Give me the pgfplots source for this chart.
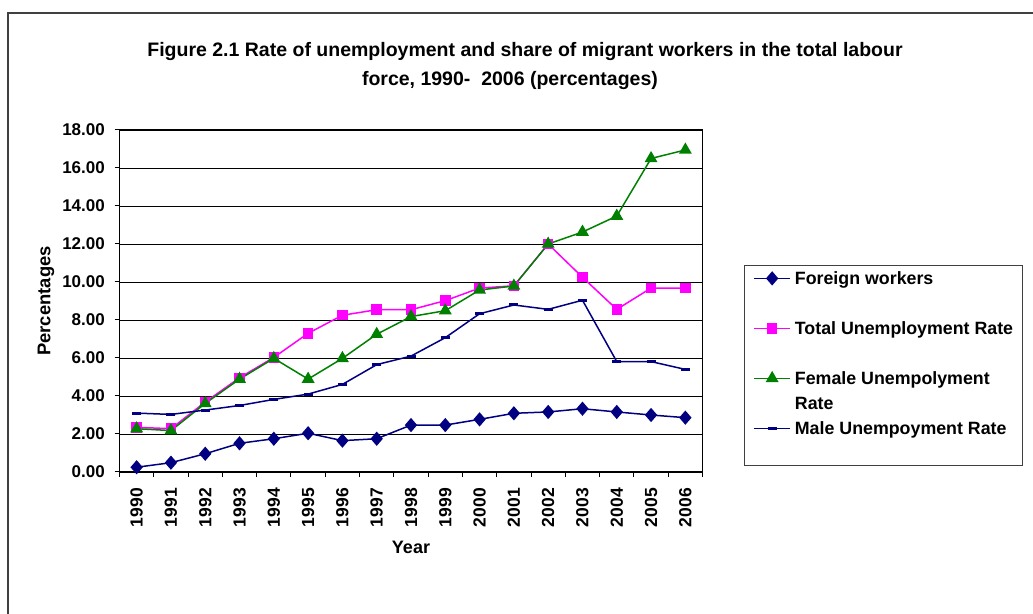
\documentclass[border=0pt]{standalone}
\usepackage{fontspec}
\setmainfont{Liberation Sans}
\usepackage{pgfplots}
\pgfplotsset{compat=1.18}
\definecolor{navy}{RGB}{0,0,128}
\definecolor{mag}{RGB}{255,0,255}
\definecolor{grn}{RGB}{0,128,0}
\definecolor{framec}{RGB}{64,64,64}
\begin{document}
\begin{tikzpicture}
\useasboundingbox (0pt,0pt) rectangle (1033pt,613pt);
\draw[framec, line width=2pt] (8pt,-2pt) -- (8pt,600pt) -- (1036pt,600pt);
\node[font=\bfseries\fontsize{19.5}{23}\selectfont, anchor=base] at (525pt,556.5pt) {Figure 2.1 Rate of unemployment and share of migrant workers in the total labour};
\node[font=\bfseries\fontsize{19.5}{23}\selectfont, anchor=base] at (510pt,527pt) {force, 1990-\ \ 2006 (percentages)};
\begin{axis}[
  at={(119.5pt,141pt)}, anchor=south west,
  scale only axis, width=583pt, height=342pt,
  xmin=-0.5, xmax=16.5, ymin=0, ymax=18,
  xtick={-0.5,0.5,...,16.5},
  x tick label as interval,
  xticklabels={1990,1991,1992,1993,1994,1995,1996,1997,1998,1999,2000,2001,2002,2003,2004,2005,2006},
  ytick={0,2,...,18},
  tick pos=left,
  tick align=outside, major tick length=5pt,
  tick style={black, line width=1pt},
  ymajorgrids, grid style={black, line width=0.8pt},
  axis line style={black, line width=1.3pt},
  yticklabel style={font=\bfseries\fontsize{17}{20}\selectfont, inner sep=0pt, xshift=-9.5pt},
  xticklabel style={font=\bfseries\fontsize{17.5}{20}\selectfont, yshift=-11pt, rotate=90, anchor=east, inner sep=0pt},
  yticklabel={\pgfmathprintnumber[fixed, fixed zerofill, precision=2, assume math mode=true]{\tick}},
  xlabel={Year}, ylabel={Percentages},
  xlabel style={font=\bfseries\fontsize{18}{20}\selectfont, at={(axis description cs:0.5,-0.2193)}, anchor=center},
  ylabel style={font=\bfseries\fontsize{18.4}{20}\selectfont, at={(axis description cs:-0.1261,0.5)}, anchor=center},
  legend image code/.code={\draw[mark repeat=2,mark phase=2,#1,yshift=6pt] plot coordinates {(0pt,0pt) (18pt,0pt) (36pt,0pt)};},
  legend style={at={(rel axis cs:1.0712,0.6053)}, anchor=north west, draw=framec, line width=0.8pt,
    inner xsep=9pt, inner ysep=0pt, row sep=0pt, /tikz/column sep=4pt,
    font=\bfseries\fontsize{17.8}{25}\selectfont,
    nodes={inner sep=0pt, text height=19pt, text depth=31pt, anchor=base west}},
  legend cell align=left,
]
\addplot[navy, line width=1.5pt, mark=diamond*, mark size=6pt, mark options={solid, xscale=1.15}] coordinates {
(0,0.25) (1,0.49) (2,0.96) (3,1.51) (4,1.75) (5,2.04) (6,1.65) (7,1.75) (8,2.47) (9,2.47) (10,2.77) (11,3.09) (12,3.16) (13,3.33) (14,3.16) (15,3.00) (16,2.86)};
\addlegendentry{Foreign workers}
\addplot[mag, line width=1.5pt, mark=square*, mark size=4.5pt, mark options={solid}] coordinates {
(0,2.35) (1,2.28) (2,3.68) (3,4.96) (4,6.03) (5,7.30) (6,8.25) (7,8.54) (8,8.54) (9,9.02) (10,9.68) (11,9.80) (12,12.00) (13,10.25) (14,8.56) (15,9.68) (16,9.68)};
\addlegendentry{Total Unemployment Rate}
\addplot[grn, line width=1.5pt, mark=triangle*, mark size=6pt, mark options={solid}] coordinates {
(0,2.28) (1,2.18) (2,3.61) (3,4.89) (4,5.98) (5,4.89) (6,5.98) (7,7.25) (8,8.18) (9,8.49) (10,9.58) (11,9.79) (12,12.00) (13,12.63) (14,13.47) (15,16.50) (16,16.95)};
\addlegendentry{\begin{tabular}[t]{@{}l@{}}Female Unempolyment\\Rate\end{tabular}}
\addplot[navy, line width=1.5pt, mark=-, mark size=4.5pt, mark options={solid, line width=3pt}] coordinates {
(0,3.10) (1,3.03) (2,3.26) (3,3.50) (4,3.82) (5,4.10) (6,4.61) (7,5.65) (8,6.10) (9,7.07) (10,8.33) (11,8.79) (12,8.56) (13,9.04) (14,5.81) (15,5.81) (16,5.40)};
\addlegendentry{Male Unempoyment Rate}
\end{axis}
\end{tikzpicture}
\end{document}
